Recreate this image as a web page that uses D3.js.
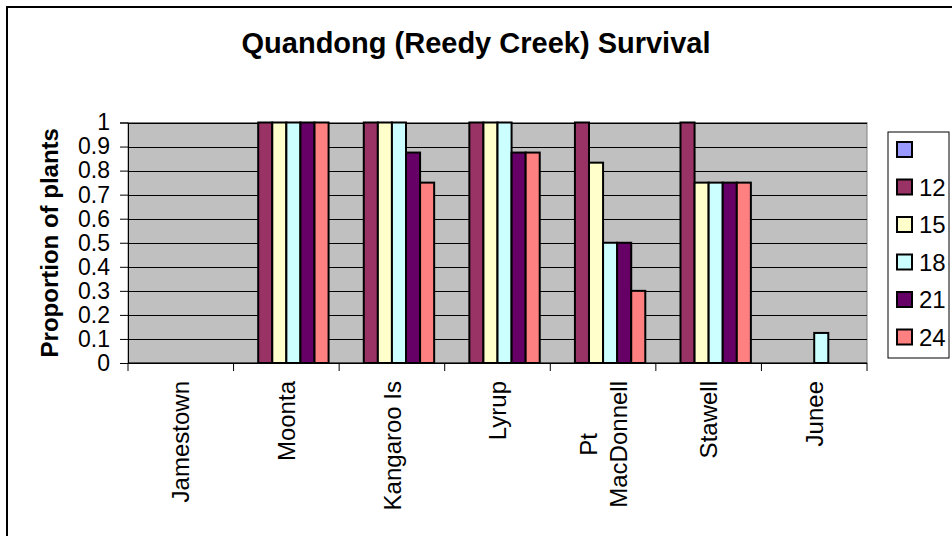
<!DOCTYPE html>
<html>
<head>
<meta charset="utf-8">
<script src="https://cdn.jsdelivr.net/npm/d3@7"></script>
<style>
  html, body { margin: 0; padding: 0; background: #fff; }
  svg { display: block; font-family: "Liberation Sans", Arial, sans-serif; }
</style>
</head>
<body>
<svg id="chart" width="952" height="536"></svg>
<script>
// Sites along the x axis ("\n" splits a label over two lines)
const categories = ["Jamestown", "Moonta", "Kangaroo Is", "Lyrup", "Pt\nMacDonnell", "Stawell", "Junee"];

// Series (months) and their fills
const seriesNames = ["", "12", "15", "18", "21", "24"];
const seriesColors = ["#9999FF", "#993366", "#FFFFCC", "#CCFFFF", "#660066", "#FF8080"];

// Proportion of plants surviving, per site (null = no bar)
const valuesBlank = [null, null, null, null, null, null, null];
const values12 = [null, 1, 1, 1, 1, 1, null];
const values15 = [null, 1, 1, 1, 0.833, 0.75, null];
const values18 = [null, 1, 1, 1, 0.5, 0.75, 0.125];
const values21 = [null, 1, 0.875, 0.875, 0.5, 0.75, null];
const values24 = [null, 1, 0.75, 0.875, 0.3, 0.75, null];
const seriesValues = [valuesBlank, values12, values15, values18, values21, values24];

// Y axis ticks
const yTickValues = [0, 0.1, 0.2, 0.3, 0.4, 0.5, 0.6, 0.7, 0.8, 0.9, 1];
const yTickLabels = ["0", "0.1", "0.2", "0.3", "0.4", "0.5", "0.6", "0.7", "0.8", "0.9", "1"];

const titleText = "Quandong (Reedy Creek) Survival";
const yTitleText = "Proportion of plants";

const svg = d3.select("#chart");
const plot = { left: 128, right: 867, top: 122.5, bottom: 363 };

// outer chart frame (continues past the right and bottom edges)
svg.append("rect")
  .attr("x", 7).attr("y", 7).attr("width", 1000).attr("height", 600)
  .attr("fill", "#fff").attr("stroke", "#000").attr("stroke-width", 2);

const x = d3.scaleBand().domain(categories).range([plot.left, plot.right]).padding(0);
const xInner = d3.scaleBand().domain(d3.range(seriesNames.length))
  .range([0, x.bandwidth()]).paddingInner(0).paddingOuter(0.75);
const y = d3.scaleLinear().domain([0, 1]).range([plot.bottom, plot.top]);

// plot background
svg.append("rect")
  .attr("x", plot.left).attr("y", plot.top)
  .attr("width", plot.right - plot.left).attr("height", plot.bottom - plot.top)
  .attr("fill", "#C0C0C0").attr("stroke", "#808080").attr("stroke-width", 1);

// horizontal gridlines
svg.append("g")
  .attr("transform", `translate(${plot.left},0)`)
  .call(d3.axisLeft(y).tickValues(yTickValues).tickSize(-(plot.right - plot.left)).tickFormat(""))
  .call(g => g.select(".domain").remove())
  .call(g => g.selectAll("line").attr("stroke", "#000").attr("stroke-width", 1).attr("shape-rendering", "crispEdges"));

// bars
seriesValues.forEach((vals, si) => {
  svg.append("g")
    .selectAll("rect")
    .data(categories.map((c, ci) => ({ c, v: vals[ci] })).filter(d => d.v != null))
    .join("rect")
    .attr("x", d => x(d.c) + xInner(si))
    .attr("y", d => y(d.v))
    .attr("width", xInner.bandwidth())
    .attr("height", d => y(0) - y(d.v))
    .attr("fill", seriesColors[si])
    .attr("stroke", "#000")
    .attr("stroke-width", 2);
});

// y axis
const yAxis = svg.append("g")
  .attr("transform", `translate(${plot.left},0)`)
  .call(d3.axisLeft(y).tickValues(yTickValues).tickSize(8).tickPadding(10)
    .tickFormat((d, i) => yTickLabels[i]));
yAxis.select(".domain").attr("stroke", "#000").attr("stroke-width", 1);
yAxis.selectAll("line").attr("stroke", "#000");
yAxis.selectAll("text").attr("font-size", 23).attr("fill", "#000")
  .attr("font-family", "Liberation Sans, Arial, sans-serif");

// x axis line and boundary ticks
const xAxis = svg.append("g").attr("transform", `translate(0,${plot.bottom})`);
xAxis.append("line").attr("x1", plot.left).attr("x2", plot.right)
  .attr("stroke", "#000").attr("stroke-width", 1);
const boundaries = categories.map(c => x(c)).concat([plot.right]);
xAxis.selectAll("line.tick").data(boundaries).join("line").attr("class", "tick")
  .attr("x1", d => d).attr("x2", d => d).attr("y1", 0).attr("y2", 8)
  .attr("stroke", "#000").attr("stroke-width", 1);

// rotated category labels, block top-aligned under the axis, lines centred
const labelTop = 381, lineH = 30, fontSize = 24;
categories.forEach(c => {
  const lines = c.split("\n");
  const cx = x(c) + x.bandwidth() / 2;
  const g = svg.append("g");
  const texts = lines.map((ln, i) => g.append("text")
    .attr("font-size", fontSize).attr("fill", "#000")
    .attr("text-anchor", "middle").text(ln));
  const maxW = d3.max(texts, t => t.node().getComputedTextLength());
  const cy = labelTop + maxW / 2;
  texts.forEach((t, i) => {
    const off = (i - (lines.length - 1) / 2) * lineH + fontSize * 0.36;
    t.attr("transform", `translate(${cx + off},${cy}) rotate(-90)`);
  });
});

// title
svg.append("text")
  .attr("x", 476).attr("y", 53).attr("text-anchor", "middle")
  .attr("font-size", 29).attr("font-weight", "bold").attr("fill", "#000")
  .text(titleText);

// y axis title
svg.append("text")
  .attr("transform", `translate(${58},${(plot.top + plot.bottom) / 2}) rotate(-90)`)
  .attr("text-anchor", "middle")
  .attr("font-size", 24).attr("font-weight", "bold").attr("fill", "#000")
  .text(yTitleText);

// legend
const legend = { x: 888, y: 132, w: 61, h: 226, step: 37.5, sw: 15 };
svg.append("rect")
  .attr("x", legend.x).attr("y", legend.y).attr("width", legend.w).attr("height", legend.h)
  .attr("fill", "#fff").attr("stroke", "#000").attr("stroke-width", 1);
const items = svg.append("g").selectAll("g").data(seriesNames).join("g")
  .attr("transform", (d, i) => `translate(${legend.x + 9},${legend.y + 10 + i * legend.step})`);
items.append("rect")
  .attr("width", legend.sw).attr("height", legend.sw)
  .attr("fill", (d, i) => seriesColors[i]).attr("stroke", "#000").attr("stroke-width", 2);
items.append("text")
  .attr("x", 22).attr("y", legend.sw / 2).attr("dy", "0.36em")
  .attr("font-size", 24).attr("fill", "#000")
  .text(d => d);
</script>
</body>
</html>
